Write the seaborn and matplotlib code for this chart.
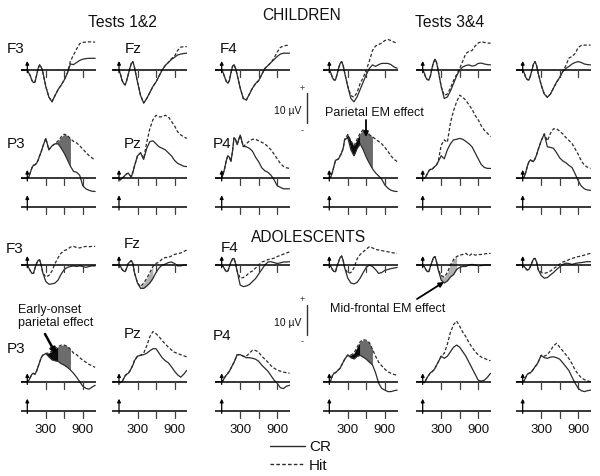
import matplotlib
matplotlib.use("Agg")
import numpy as np
import matplotlib.pyplot as plt
from matplotlib.lines import Line2D
import seaborn as sns

sns.set_theme(style="white")
plt.rcParams["font.family"] = ["Liberation Sans", "DejaVu Sans"]

# ------------------------------------------------------------------ data
times = [-100, -50, 0, 25, 50, 75, 100, 125, 150, 175, 200, 225, 250, 300, 350,
         400, 450, 500, 550, 600, 650, 700, 750, 800, 850, 900, 950, 1000, 1050, 1100]
tick_times = [300, 600, 900]
tick_label_times = [300, 900]
tick_labels = ["300", "900"]
electrodes_F = ["F3", "Fz", "F4"]
electrodes_P = ["P3", "Pz", "P4"]
group_titles = ["CHILDREN", "ADOLESCENTS"]
test_titles = ["Tests 1&2", "Tests 3&4"]
conditions = ["CR", "Hit"]
scale_uv = 10

# Children, tests 1&2
ch12_F3_cr  = [0,0,0,-1,-2,-3.5,-4.2,-4,-1.8,0.5,1.7,1,-0.5,-5.5,-9,-10.6,-8.5,-6.5,-5,-3.3,-1,2,1.8,2.5,3.2,3.6,3.8,3.9,3.9,3.9]
ch12_F3_hit = [0,0,0,-1,-2,-3.5,-4.2,-4,-1.8,0.5,1.7,1,-0.5,-5.5,-9,-10.6,-8.5,-6.5,-5,-3.3,-1,3,5,7,8.8,9.2,9.3,9.4,9.3,9.3]
ch12_Fz_cr  = [0,0,0,-1.5,-3.5,-4.5,-5,-3.5,-1.5,0.5,2.2,2.8,1,-4,-8.5,-11,-9.5,-7.5,-5.5,-4,-2,0,1.5,2.5,3.5,4.2,5,5.3,5.5,5.6]
ch12_Fz_hit = [0,0,0,-1.5,-3.5,-4.5,-5,-3.5,-1.5,0.5,2.2,2.8,1,-4,-8.5,-11,-9.5,-7.5,-5.5,-4,-2,0,1.5,2.5,3.8,4.5,6.5,7.6,7.8,7.8]
ch12_F4_cr  = [0,0,0,-1,-2.5,-3.8,-4.4,-3.5,-1,1.2,1.8,0.5,-1.5,-6,-9.5,-10,-8,-6,-4.5,-3.5,-1.5,0.5,1.5,2.5,3.5,4.5,5.3,5.6,5.6,5.6]
ch12_F4_hit = [0,0,0,-1,-2.5,-3.8,-4.4,-3.5,-1,1.2,1.8,0.5,-1.5,-6,-9.5,-10,-8,-6,-4.5,-3.5,-1.5,0.5,1.5,2.5,4,6,7.5,8,8.2,8.2]
ch12_P3_cr  = [0,0,0,0.5,2,3.5,4.4,4.5,5,6,7.5,8.8,10.5,13.3,9.5,10.8,11.5,11.5,10,8.3,6.2,4,2.3,2,1,-2.5,-3.5,-4,-4.3,-4.4]
ch12_P3_hit = [0,0,0,0.5,2,3.5,4.4,4.5,5,6,7.5,8.8,10.5,13.3,9.5,10.8,11.5,12.5,13.8,14.7,14.3,13.2,12.3,11.8,10.8,9.8,8.6,7.6,6.8,6]
ch12_Pz_cr  = [0,0,0,-0.5,0,0.5,1,1.5,1.7,1,0.5,2,4,7.5,8.5,6.3,10,12.2,12.5,11.5,10.5,10,9.5,8.5,7.5,6,5,4.5,4,3.9]
ch12_Pz_hit = [0,0,0,-0.5,0,0.5,1,1.5,1.7,1,0.5,2,4,7.5,8.5,6.5,12,16.5,19.5,21,20.5,20.5,21,20.5,19,17.5,15.5,14.5,13.8,13.3]
ch12_P4_cr  = [0,0,0,1.5,3.5,6,7.5,7,5.6,9,13.5,13,11.2,14.4,10.6,10.5,10,9,7,5.5,3.5,2.5,2,1,-0.5,-2.5,-3,-3.5,-3.5,-3.5]
ch12_P4_hit = [0,0,0,1.5,3.5,6,7.5,7,5.6,9,13.5,13,11.2,14.4,10.6,11.5,12.5,13,13,12.5,12,11.5,10.5,9.5,8,6.5,5,4,3.5,3.3]

# Children, tests 3&4
ch34_F3_cr  = [0,0,0,-1,-2.5,-3.3,-3.3,-1.5,0.5,2.2,2.8,1.5,-1,-5.5,-9.5,-10.6,-9,-6.5,-4,-1.5,0.5,1.7,1.2,1.8,2.2,2.2,2.2,1.8,1,0.6]
ch34_F3_hit = [0,0,0,-1,-2.5,-3.3,-3.3,-1.5,0.5,2.2,2.8,1.5,-1,-5.5,-8.5,-9.1,-7.5,-4.5,-2.5,0,3,6.5,8,8.5,9,9.8,10.2,9.8,9.3,8.9]
ch34_Fz_cr  = [0,0,0,-1,-2.5,-3.2,-3.3,-2,0.5,2.5,3.6,2.5,0,-5.5,-9.5,-9,-7,-4.5,-2,0,1,1.5,1.7,1.3,1.5,2.2,2.3,2,1.8,1.7]
ch34_Fz_hit = [0,0,0,-1,-2.5,-3.2,-3.3,-2,0.5,2.5,3.6,2.5,0,-5.5,-8.5,-8,-6,-3.5,-1.5,0.5,3,5.5,6.2,6.5,8,9,9.4,9.2,9,8.9]
ch34_F4_cr  = [0,0,0,-1,-2.5,-3.2,-3.3,-2,0,2,2.8,1.5,-1,-5,-8,-9.1,-8,-6,-4,-2.5,-0.5,0.5,1.2,2,2.5,2.8,2.5,2,1.8,1.7]
ch34_F4_hit = [0,0,0,-1,-2.5,-3.2,-3.3,-2,0,2,2.8,1.5,-1,-5,-8,-9.1,-8,-6,-4,-2.5,-0.5,1.5,4,4.5,5.5,7.5,8.2,8.3,8.3,8.3]
ch34_P3_cr  = [0,0,0,0.5,2,4,6,6.2,6.5,7.5,8.5,10,13,13.5,9.5,7.5,10,11.5,9.5,7,5,3.2,1.8,0.8,-0.3,-2.2,-3.3,-4,-4.3,-4.4]
ch34_P3_hit = [0,0,0,0.5,2,4,6,6.2,6.5,7.5,8.5,10,13,14.6,12.5,10.8,13,15,16.2,16,14.5,13.9,13,12.3,11.5,10.3,9,7.5,6.3,5.6]
ch34_Pz_cr  = [0,0,0,0,0.5,1.5,2.5,3,3,3.5,4,4.5,5.5,7.5,6.5,9.5,11.5,12.8,13,13.3,13,12.3,11.5,10.5,8.5,6.5,4.6,3.6,3.3,3.3]
ch34_Pz_hit = [0,0,0,0,0.5,1.5,2.5,3,3,3.5,4,4.5,5.5,11,12.8,12,18.5,22.5,25.5,27.7,27,26,24.5,23,21,19.5,17.5,16,15,13.9]
ch34_P4_cr  = [0,0,0,0.5,2,4,5.5,6.1,5.8,5.6,6.5,7.8,9.5,12.5,14.8,10.5,10.3,10,8.5,6.8,5.8,5.2,4.3,3.6,1.5,-0.8,-2.6,-3.5,-3.9,-4]
ch34_P4_hit = [0,0,0,0.5,2,4,5.5,6.1,5.8,5.6,6.5,7.8,9.5,12.5,14.8,12.5,15,16.5,16.5,15.7,14.8,13.6,12.6,11.6,9.8,8,5.8,4.4,3.7,3.3]

# Adolescents, tests 1&2
ad12_F3_cr  = [0,0,0,-1,-2,-2.8,-2.8,-1,0.5,1.5,1.7,0,-2.5,-5.5,-6.4,-6.3,-6,-5,-3,-1.5,-0.8,-0.5,-0.3,-0.5,-0.3,-0.5,-0.8,-0.5,-0.3,-0.3]
ad12_F3_hit = [0,0,0,-1,-2,-2.8,-2.8,-1,0.5,1.5,1.7,0,-2.5,-4,-3.5,-2,0.5,2.5,4,4.8,5.2,6,6.2,5.8,5.7,6,6.2,6.1,6.2,6.2]
ad12_Fz_cr  = [0,0,0,-0.5,-1.5,-2,-2.2,-1,0.5,1,1.5,0.5,-2.5,-6,-7.8,-7.8,-7,-6,-4.5,-2.5,-1,0,0.3,0.8,1,0.5,-0.3,-0.3,0,0]
ad12_Fz_hit = [0,0,0,-0.5,-1.5,-2,-2.2,-1,0.5,1,1.5,0.5,-2.5,-6,-7.2,-6,-4.5,-2.5,-0.5,0.5,1,2,2.5,2.5,3,3.5,3.8,4,4.5,5]
ad12_F4_cr  = [0,0,0,-0.5,-1.5,-2.2,-2,-0.5,1,2,2.2,0.5,-2,-6.7,-7.2,-7,-6.5,-5.5,-4.5,-3,-1.5,0,1,1.1,0.8,0.5,0.7,1,1,1.1]
ad12_F4_hit = [0,0,0,-0.5,-1.5,-2.2,-2,-0.5,1,2,2.2,0.5,-2,-4.4,-4.2,-3.5,-2.5,-2,-1,0,1,1.3,1.8,2,2.3,2.8,3.2,3.6,4,4.4]
ad12_P3_cr  = [0,0,0,0.5,1.5,2.5,2.8,2.5,3.5,5,6.5,8,8.8,9.4,8.3,7.3,7,6.8,6,5.5,4.8,3.9,2.8,1.5,0,-1.5,-2.2,-2.5,-1.8,-1.2]
ad12_P3_hit = [0,0,0,0.5,1.5,2.5,2.8,2.5,3.5,5,6.5,8,8.8,9.4,9.6,10.2,10.9,11.7,12.2,12.2,11.8,10.8,9.5,9,8,7.2,6.5,5.8,5.3,4.8]
ad12_Pz_cr  = [0,0,0,-0.3,0,1,2,2.5,2.8,3.5,4.5,5.5,7,8.5,8.8,9,9.5,10.3,11,11,9.5,8,7,6.3,5,3.5,2.3,1.5,2.5,3.8]
ad12_Pz_hit = [0,0,0,-0.3,0,1,2,2.5,2.8,3.5,4.5,5.5,7,8.5,8.8,9.5,12,15,16.7,16,15,13.7,12.6,11.5,10.6,9.8,9.4,9,8.6,8.3]
ad12_P4_cr  = [0,0,0,0.5,1.5,2.2,2.8,3.5,4.5,5.5,6.5,7.7,9,9,8.5,8,8,7.8,7.5,6.8,5.5,4.5,3.5,2,0.5,-0.5,-2,-2.3,-1.5,-1.2]
ad12_P4_hit = [0,0,0,0.5,1.5,2.2,2.8,3.5,4.5,5.5,6.5,7.7,9,9,8.5,8.5,9.5,10.5,10.4,9.8,8.5,7.5,6.5,5.3,4.5,3.9,3.5,3.2,3,2.8]

# Adolescents, tests 3&4
ad34_F3_cr  = [0,0,0,-0.5,-1.5,-2.2,-2.2,-0.5,1,2.5,3,1.5,-1,-4.4,-6,-6.3,-5.8,-4.4,-2.5,-0.8,0,-0.5,-1.5,-2.8,-2.5,-1.8,-1.5,-1.2,-1,-0.8]
ad34_F3_hit = [0,0,0,-0.5,-1.5,-2.2,-2.2,-0.5,1,2.5,3,1.5,-1,-2.8,-2.5,-1,2,3.5,4.4,5.3,6.1,5.7,5.2,5,4.8,4.6,4.4,4.2,4,3.9]
ad34_Fz_cr  = [0,0,0,-0.5,-1.5,-2.2,-2.2,-0.5,1,2.5,2.8,1,-1.5,-5,-6,-5.3,-4,-3.2,-1.5,-0.8,-0.5,-0.5,0,0.2,0,-0.2,-0.2,0,0,0]
ad34_Fz_hit = [0,0,0,-0.5,-1.5,-2.2,-2.2,-0.5,1,2.5,2.8,1,-1.5,-3.5,-4,-2.5,0,1.8,2.8,3.3,3.5,3.9,3,3.8,3.3,3.5,3.5,3.7,3.8,3.9]
ad34_F4_cr  = [0,0,0,-0.5,-1.2,-1.7,-1.5,-0.5,0.8,2,2.2,1,-1.5,-3.5,-4.4,-4.2,-3.3,-2.5,-1.5,-0.6,0.2,0.6,0.5,0.2,0.5,0.7,0.8,1,1.1,1.1]
ad34_F4_hit = [0,0,0,-0.5,-1.2,-1.7,-1.5,-0.5,0.8,2,2.2,1,-1.5,-2.5,-2.8,-2.5,-2,-1.2,-0.5,0.3,1,1.3,1.8,2.2,2.5,2.8,3,3.3,3.6,3.9]
ad34_P3_cr  = [0,0,0,0.5,2,2.8,3,3.5,4,4.5,5.5,6.5,7.5,8.9,8,7.6,8.5,8.8,8.2,7.5,6.5,5.6,3,-0.5,-2.2,-2.8,-3.3,-3.3,-3,-2.8]
ad34_P3_hit = [0,0,0,0.5,2,2.8,3,3.5,4,4.5,5.5,6.5,7.5,8.9,8.9,9.5,11.5,13.3,14,13.8,13,10.8,8.5,6.5,5.3,4.2,3.3,2.8,2.4,2.2]
ad34_Pz_cr  = [0,0,0,-0.3,0.5,1.5,2.2,3,3.3,3.8,4.5,5.5,6.5,8.5,7.8,8.5,10,11.5,12.2,11.5,10,8.5,6.5,4.5,2.5,0.5,0.2,0.5,1.5,2.8]
ad34_Pz_hit = [0,0,0,-0.3,0.5,1.5,2.2,3,3.3,3.8,4.5,5.5,6.5,8.5,9.5,12.5,16.5,19,20.2,18.5,16.5,15,13,11.5,10,9,8.2,7.8,7.3,7]
ad34_P4_cr  = [0,0,0,0.3,1.5,2.5,2.8,3,3.5,4.2,5,5.6,6.5,8.8,8,7.8,8.2,8.3,8,7.5,6.3,5,3.7,1.5,-0.5,-2.2,-3,-3.3,-3,-2.8]
ad34_P4_hit = [0,0,0,0.3,1.5,2.5,2.8,3,3.5,4.2,5,5.6,6.5,8.8,8.5,9,10.3,12,12.8,11.5,10.3,9,7.7,6,3.9,2.5,1.3,0.7,0.3,0]

# Effect windows (ms)
ch12_P3_gray = [450, 700]
ch34_P3_black = [250, 500]
ch34_P3_gray = [500, 700]
ad12_Fz_light = [300, 550]
ad12_P3_black = [300, 500]
ad12_P3_gray = [500, 700]
ad34_Fz_light = [250, 550]
ad34_P3_black = [300, 500]
ad34_P3_gray = [500, 700]

# ------------------------------------------------------------------ layout / style
W, H = 600, 476
fig = plt.figure(figsize=(W / 100, H / 100), dpi=100)
fig.patch.set_facecolor("white")

PX_PER_MS = 18.5 / 300.0
PX_PER_UV = 3.0
T_MIN, T_MAX = -110, 1110
LINE = "#2c2c2c"
DASH = (0, (2.6, 1.6))
C_GRAY = "#6c6c6c"
C_BLACK = "#0a0a0a"
C_LIGHT = "#b0b0b0"
TXT = "#111111"

col_x0 = [27.3, 119.0, 221.7, 329.3, 422.7, 522.7]
row_y = {"chF": 70.0, "chP": 178.3, "chS": 207.3, "adF": 265.0, "adP": 381.7, "adS": 410.7}


def panel(x0, y0, ymin, ymax):
    left = x0 + T_MIN * PX_PER_MS
    width = (T_MAX - T_MIN) * PX_PER_MS
    lower = y0 - ymin * PX_PER_UV
    height = (ymax - ymin) * PX_PER_UV
    ax = fig.add_axes([left / W, 1 - lower / H, width / W, height / H])
    ax.set_xlim(T_MIN, T_MAX)
    ax.set_ylim(ymin, ymax)
    ax.set_axis_off()
    ax.patch.set_alpha(0)
    return ax


def decorate(ax, arrow_top=3.0):
    ax.plot([-107, 1108], [0, 0], color="black", lw=1.1, solid_capstyle="butt", clip_on=False, zorder=3)
    for t in tick_times:
        ax.plot([t, t], [0.2, -2.3], color="#404040", lw=0.9, clip_on=False, zorder=3)
    ax.annotate("", xy=(0, arrow_top), xytext=(0, -0.9),
                arrowprops=dict(arrowstyle="-|>", color="black", lw=0.9,
                                mutation_scale=5, shrinkA=0, shrinkB=0),
                annotation_clip=False, zorder=4)


def waves(ax, cr, hit, fills=()):
    t = np.asarray(times, float)
    c = np.asarray(cr, float)
    h = np.asarray(hit, float)
    for win, col in fills:
        m = (t >= win[0]) & (t <= win[1])
        ax.fill_between(t, c, h, where=m, color=col, lw=0, zorder=1)
    sns.lineplot(x=t, y=c, ax=ax, color=LINE, lw=0.9, sort=False, estimator=None, zorder=2)
    sns.lineplot(x=t, y=h, ax=ax, color=LINE, lw=0.9, sort=False, estimator=None, zorder=2)
    ax.lines[-1].set_linestyle(DASH)


groups = [
    ("ch", "chF", "chP", "chS",
     [(ch12_F3_cr, ch12_F3_hit, ()), (ch12_Fz_cr, ch12_Fz_hit, ()), (ch12_F4_cr, ch12_F4_hit, ()),
      (ch34_F3_cr, ch34_F3_hit, ()), (ch34_Fz_cr, ch34_Fz_hit, ()), (ch34_F4_cr, ch34_F4_hit, ())],
     [(ch12_P3_cr, ch12_P3_hit, ((ch12_P3_gray, C_GRAY),)),
      (ch12_Pz_cr, ch12_Pz_hit, ()), (ch12_P4_cr, ch12_P4_hit, ()),
      (ch34_P3_cr, ch34_P3_hit, ((ch34_P3_black, C_BLACK), (ch34_P3_gray, C_GRAY))),
      (ch34_Pz_cr, ch34_Pz_hit, ()), (ch34_P4_cr, ch34_P4_hit, ())]),
    ("ad", "adF", "adP", "adS",
     [(ad12_F3_cr, ad12_F3_hit, ()), (ad12_Fz_cr, ad12_Fz_hit, ((ad12_Fz_light, C_LIGHT),)),
      (ad12_F4_cr, ad12_F4_hit, ()),
      (ad34_F3_cr, ad34_F3_hit, ()), (ad34_Fz_cr, ad34_Fz_hit, ((ad34_Fz_light, C_LIGHT),)),
      (ad34_F4_cr, ad34_F4_hit, ())],
     [(ad12_P3_cr, ad12_P3_hit, ((ad12_P3_black, C_BLACK), (ad12_P3_gray, C_GRAY))),
      (ad12_Pz_cr, ad12_Pz_hit, ()), (ad12_P4_cr, ad12_P4_hit, ()),
      (ad34_P3_cr, ad34_P3_hit, ((ad34_P3_black, C_BLACK), (ad34_P3_gray, C_GRAY))),
      (ad34_Pz_cr, ad34_Pz_hit, ()), (ad34_P4_cr, ad34_P4_hit, ())]),
]

for gname, fkey, pkey, skey, frow, prow in groups:
    for ci in range(6):
        axf = panel(col_x0[ci], row_y[fkey], -12.5, 11)
        decorate(axf)
        waves(axf, *frow[ci])
        axp = panel(col_x0[ci], row_y[pkey], -6, 29)
        decorate(axp, arrow_top=2.8)
        waves(axp, *prow[ci])
        axs = panel(col_x0[ci], row_y[skey], -9, 5)
        decorate(axs, arrow_top=4.0)
        if gname == "ad":
            for tt, lab in zip(tick_label_times, tick_labels):
                axs.text(tt, -7.3, lab, ha="center", va="baseline", fontsize=9.5, color=TXT)


def ftext(x, y, s, **kw):
    fig.text(x / W, 1 - y / H, s, **kw)


# titles
ftext(122, 27, test_titles[0], ha="center", va="baseline", fontsize=11.3, color=TXT)
ftext(450, 27, test_titles[1], ha="center", va="baseline", fontsize=11.3, color=TXT)
ftext(302, 20.5, group_titles[0], ha="center", va="baseline", fontsize=11.2, color=TXT)
ftext(308.5, 242, group_titles[1], ha="center", va="baseline", fontsize=11.2, color=TXT)

# electrode labels
for i, lab in enumerate(electrodes_F):
    ftext([16, 133, 229][i], 53, lab, ha="center", va="baseline", fontsize=11, color=TXT)
for i, lab in enumerate(electrodes_P):
    ftext([16, 133, 222][i], 148, lab, ha="center", va="baseline", fontsize=11, color=TXT)
for i, lab in enumerate(electrodes_F):
    ftext([15, 132, 230][i], [253, 248, 252][i], lab, ha="center", va="baseline", fontsize=11, color=TXT)
for i, lab in enumerate(electrodes_P):
    ftext([16, 133, 222][i], [353, 338, 340][i], lab, ha="center", va="baseline", fontsize=11, color=TXT)

# scale bars (10 µV, same vertical scale as panels)
for y_bottom, y_plus, y_minus, y_lab in [(123.5, 88, 131, 113.5), (335, 299.5, 342, 325.5)]:
    axb = fig.add_axes([304.5 / W, 1 - (y_bottom + 2 * PX_PER_UV) / H, 4 / W, (scale_uv + 4) * PX_PER_UV / H])
    axb.set_xlim(0, 1)
    axb.set_ylim(-2, scale_uv + 2)
    axb.set_axis_off()
    axb.patch.set_alpha(0)
    axb.plot([0.5, 0.5], [0, scale_uv], color="#333", lw=1.0)
    ftext(302, y_plus, "+", ha="center", va="center", fontsize=6.5, color="#333")
    ftext(302, y_minus, "-", ha="center", va="center", fontsize=6.5, color="#333")
    ftext(301.5, y_lab, f"{scale_uv} µV", ha="right", va="baseline", fontsize=7.5, color=TXT)

# annotations (overlay in pixel space)
ov = fig.add_axes([0, 0, 1, 1])
ov.set_xlim(0, W)
ov.set_ylim(H, 0)
ov.set_axis_off()
ov.patch.set_alpha(0)
ov.text(325, 116.5, "Parietal EM effect", ha="left", va="baseline", fontsize=9, color=TXT)
ov.annotate("", xy=(366, 137), xytext=(366, 120),
            arrowprops=dict(arrowstyle="-|>", color="black", lw=1.3, mutation_scale=7, shrinkA=0, shrinkB=0))
ov.text(18, 312.5, "Early-onset", ha="left", va="baseline", fontsize=9, color=TXT)
ov.text(18, 326, "parietal effect", ha="left", va="baseline", fontsize=9, color=TXT)
ov.annotate("", xy=(56, 354), xytext=(45, 334),
            arrowprops=dict(arrowstyle="-|>", color="black", lw=1.8, mutation_scale=8, shrinkA=0, shrinkB=0))
ov.text(330, 312.5, "Mid-frontal EM effect", ha="left", va="baseline", fontsize=9, color=TXT)
ov.annotate("", xy=(444, 282), xytext=(417, 299),
            arrowprops=dict(arrowstyle="-|>", color="black", lw=1.3, mutation_scale=7, shrinkA=0, shrinkB=0))

# legend
handles = [Line2D([], [], color=LINE, lw=1.0),
           Line2D([], [], color=LINE, lw=1.0, linestyle=(0, (2.6, 1.6)))]
fig.legend(handles, conditions, loc="upper left", bbox_to_anchor=(270 / W, 1 - 440 / H),
           frameon=False, fontsize=11, handlelength=2.3, handletextpad=0.25,
           labelspacing=0.3, borderpad=0, borderaxespad=0, labelcolor=TXT)

fig.savefig("out.png", dpi=100, facecolor="white")
